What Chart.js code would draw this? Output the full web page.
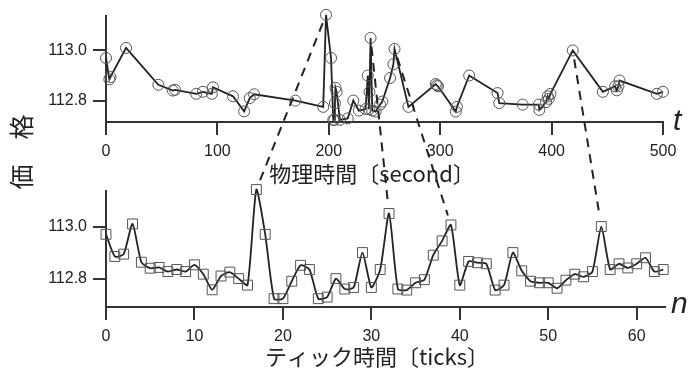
<!DOCTYPE html>
<html lang="ja">
<head>
<meta charset="UTF-8">
<title>価格</title>
<script src="https://cdn.jsdelivr.net/npm/chart.js"></script>
<style>
  body { margin: 0; background: #fff; }
  #wrap { position: relative; width: 690px; height: 368px; }
  #wrap canvas { position: absolute; left: 0; }
</style>
</head>
<body>
<div id="wrap">
  <canvas id="topChart" width="690" height="175" style="top:0"></canvas>
  <canvas id="bottomChart" width="690" height="193" style="top:175px"></canvas>
  <canvas id="overlay" width="690" height="368" style="top:0"></canvas>
</div>
<script>
// price of each tick (n = 0..63)
const prices = [
  112.97, 112.885, 112.894, 113.01, 112.863, 112.84, 112.843, 112.827,
  112.835, 112.827, 112.853, 112.817, 112.757, 112.81, 112.825, 112.80,
  112.775, 113.142, 112.97, 112.723, 112.723, 112.79, 112.851, 112.835,
  112.723, 112.729, 112.80, 112.76, 112.766, 112.90, 112.766, 112.835,
  113.05, 112.76, 112.756, 112.784, 112.796, 112.89, 112.945, 113.006,
  112.775, 112.866, 112.861, 112.857, 112.756, 112.775, 112.90, 112.83,
  112.79, 112.784, 112.784, 112.763, 112.794, 112.817, 112.807, 112.827,
  113.0, 112.835, 112.857, 112.841, 112.857, 112.88, 112.827, 112.835
];
// physical time of each tick [second]
const seconds = [
  0, 3, 4, 18, 47, 60, 62, 81,
  87, 95, 96, 114, 124, 129, 133, 170,
  195, 197.5, 202, 204, 205, 205.5, 206, 207,
  210, 217, 222, 227, 233, 235, 236, 236.5,
  237.5, 239, 242, 246, 248, 255, 258, 259,
  271.5, 296, 297, 298, 314, 315, 326, 351.5,
  353, 374, 388.5, 389, 395, 396.5, 397.5, 399,
  419, 446, 457, 458.5, 460, 461, 494.5, 500
];
const secondTicks = [0, 100, 200, 300, 400, 500];
const tickTicks = [0, 10, 20, 30, 40, 50, 60];
const priceTicks = [112.8, 113.0];
const linked = [17, 32, 39, 56];   // ticks joined by dashed lines

const bottomTop = 175;
const axisColor = '#333';
const tickFont = { family: '"Liberation Sans", Arial, sans-serif', size: 16 };

function axis(extra) {
  return Object.assign({
    type: 'linear',
    grid: { drawOnChartArea: false, drawTicks: true, tickLength: 13, color: axisColor, lineWidth: 2 },
    border: { display: true, color: axisColor, width: 2 },
    ticks: { font: tickFont, color: '#222', padding: 7, maxRotation: 0, autoSkip: false }
  }, extra);
}

const common = {
  responsive: false,
  animation: false,
  devicePixelRatio: 1,
  plugins: { legend: { display: false }, tooltip: { enabled: false } }
};

const topChart = new Chart(document.getElementById('topChart'), {
  type: 'scatter',
  data: {
    datasets: [{
      data: seconds.map((t, i) => ({ x: t, y: prices[i] })),
      showLine: true,
      borderColor: '#222',
      borderWidth: 1.8,
      tension: 0,
      pointStyle: 'circle',
      pointRadius: 5.5,
      pointBorderColor: '#555',
      pointBorderWidth: 1,
      pointBackgroundColor: 'rgba(0,0,0,0)',
      clip: false
    }]
  },
  options: Object.assign({}, common, {
    layout: { padding: { top: 12.7, right: 27, left: 0, bottom: 0 } },
    scales: {
      x: axis({
        min: 0, max: 500,
        afterBuildTicks: s => { s.ticks = secondTicks.map(v => ({ value: v })); },
        afterFit: s => { s.height = 53; }
      }),
      y: axis({
        min: 112.7146, max: 113.139,
        afterBuildTicks: s => { s.ticks = priceTicks.map(v => ({ value: v })); },
        afterFit: s => { s.width = 106; },
        ticks: { font: tickFont, color: '#222', padding: 6, callback: v => v.toFixed(1) }
      })
    }
  })
});

const bottomChart = new Chart(document.getElementById('bottomChart'), {
  type: 'line',
  data: {
    datasets: [{
      data: prices.map((p, i) => ({ x: i, y: p })),
      borderColor: '#222',
      borderWidth: 1.8,
      tension: 0.2,
      pointStyle: 'rect',
      pointRadius: 7,
      pointBorderColor: '#555',
      pointBorderWidth: 1,
      pointBackgroundColor: 'rgba(0,0,0,0)',
      clip: false
    }]
  },
  options: Object.assign({}, common, {
    layout: { padding: { top: 10, right: 25, left: 0, bottom: 0 } },
    scales: {
      x: axis({
        min: 0, max: 63.2,
        afterBuildTicks: s => { s.ticks = tickTicks.map(v => ({ value: v })); },
        afterFit: s => { s.height = 61; }
      }),
      y: axis({
        min: 112.691, max: 113.138,
        afterBuildTicks: s => { s.ticks = priceTicks.map(v => ({ value: v })); },
        afterFit: s => { s.width = 106; },
        ticks: { font: tickFont, color: '#222', padding: 6, callback: v => v.toFixed(1) }
      })
    }
  })
});

// dashed links + labels on the overlay
const ov = document.getElementById('overlay').getContext('2d');
ov.strokeStyle = '#222';
ov.lineWidth = 2;
ov.setLineDash([9, 7]);
linked.forEach(i => {
  const x1 = topChart.scales.x.getPixelForValue(seconds[i]);
  const y1 = topChart.scales.y.getPixelForValue(prices[i]);
  const x2 = bottomChart.scales.x.getPixelForValue(i);
  const y2 = bottomChart.scales.y.getPixelForValue(prices[i]) + bottomTop;
  const dx = x2 - x1, dy = y2 - y1, len = Math.hypot(dx, dy);
  const a = 9 / len, b = 1 - 10 / len;
  ov.beginPath();
  ov.moveTo(x1 + dx * a, y1 + dy * a);
  ov.lineTo(x1 + dx * b, y1 + dy * b);
  ov.stroke();
});
ov.setLineDash([]);

ov.fillStyle = '#222';
ov.textAlign = 'center';
ov.textBaseline = 'middle';
ov.font = '22px "Noto Sans CJK JP", sans-serif';
ov.fillText('物理時間〔second〕', 372, 174);
ov.fillText('ティック時間〔ticks〕', 377, 357);

ov.textAlign = 'left';
ov.textBaseline = 'alphabetic';
ov.font = 'italic 30px "Liberation Sans", Arial, sans-serif';
ov.fillText('t', 673, 130);
ov.fillText('n', 671, 313);

ov.save();
ov.translate(21, 152);
ov.rotate(-Math.PI / 2);
ov.textAlign = 'center';
ov.textBaseline = 'middle';
ov.font = '25px "Noto Sans CJK JP", sans-serif';
ov.fillText('価　格', 0, 0);
ov.restore();
</script>
</body>
</html>
